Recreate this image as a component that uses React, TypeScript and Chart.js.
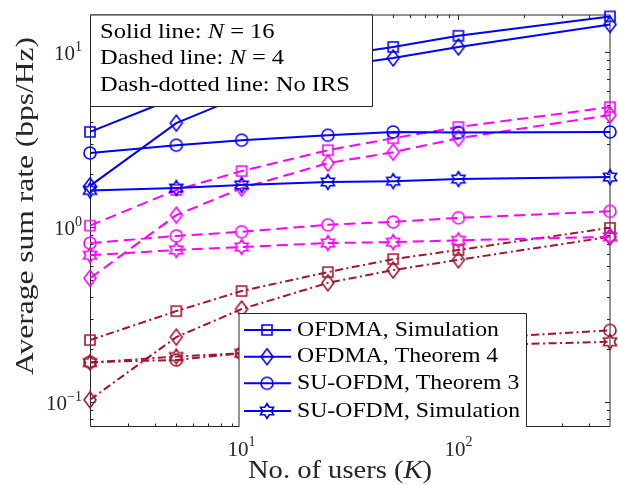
import React, { useEffect, useRef } from 'react';
import { Chart, registerables } from 'chart.js';

Chart.register(...registerables);

// ---------------- data ----------------
const users = [2, 5, 10, 25, 50, 100, 500];

// Solid line: N = 16
const ofdmaSimN16 = [3.5, 5.5, 7.3, 9.4, 10.7, 12.4, 16.0];
const ofdmaThmN16 = [1.72, 3.93, 5.6, 8.2, 9.25, 10.7, 14.4];
const suThmN16 = [2.65, 2.94, 3.14, 3.35, 3.5, 3.47, 3.5];
const suSimN16 = [1.62, 1.67, 1.74, 1.81, 1.83, 1.88, 1.93];

// Dashed line: N = 4
const ofdmaSimN4 = [1.02, 1.63, 2.09, 2.75, 3.22, 3.73, 4.85];
const ofdmaThmN4 = [0.51, 1.17, 1.67, 2.32, 2.68, 3.22, 4.37];
const suThmN4 = [0.81, 0.89, 0.94, 1.03, 1.07, 1.13, 1.23];
const suSimN4 = [0.69, 0.74, 0.77, 0.81, 0.82, 0.84, 0.88];

// Dash-dotted line: No IRS
const ofdmaSimNoIRS = [0.226, 0.331, 0.431, 0.553, 0.656, 0.74, 0.99];
const ofdmaThmNoIRS = [0.103, 0.235, 0.34, 0.48, 0.568, 0.65, 0.88];
const suThmNoIRS = [0.169, 0.174, 0.19, 0.205, 0.215, 0.228, 0.257];
const suSimNoIRS = [0.168, 0.182, 0.19, 0.198, 0.205, 0.21, 0.221];

const xMajorTicks = [10, 100];
const xMinorTicks = [3, 4, 5, 6, 7, 8, 9, 20, 30, 40, 50, 60, 70, 80, 90, 200, 300, 400];
const yMajorTicks = [0.1, 1, 10];
const yMinorTicks = [0.08, 0.09, 0.2, 0.3, 0.4, 0.5, 0.6, 0.7, 0.8, 0.9, 2, 3, 4, 5, 6, 7, 8, 9];

const legendLabels = ['OFDMA, Simulation', 'OFDMA, Theorem 4', 'SU-OFDM, Theorem 3', 'SU-OFDM, Simulation'];
const xTitle = 'No. of users';
const yTitle = 'Average sum rate (bps/Hz)';

// ---------------- styling ----------------
const FONT = '"Liberation Serif", "Times New Roman", serif';
const BLUE = '#0000ff';
const MAGENTA = '#ff00ff';
const DARKRED = '#a2142f';
const AXIS = '#262626';

type Shape = 'square' | 'diamond' | 'circle' | 'hexagram';
const shapes: Shape[] = ['square', 'diamond', 'circle', 'hexagram'];

function makeMarker(shape: Shape, color: string): HTMLCanvasElement {
  const c = document.createElement('canvas');
  c.width = 22;
  c.height = 22;
  const g = c.getContext('2d')!;
  g.strokeStyle = color;
  g.lineWidth = 1.6;
  g.lineJoin = 'miter';
  const cx = 11;
  const cy = 11;
  g.beginPath();
  if (shape === 'square') {
    g.rect(cx - 5, cy - 5, 10, 10);
  } else if (shape === 'circle') {
    g.arc(cx, cy, 6, 0, Math.PI * 2);
  } else if (shape === 'diamond') {
    g.moveTo(cx, cy - 8);
    g.lineTo(cx + 6, cy);
    g.lineTo(cx, cy + 8);
    g.lineTo(cx - 6, cy);
    g.closePath();
  } else {
    const R = 7.5;
    const r = R / Math.sqrt(3);
    for (let k = 0; k < 12; k++) {
      const a = -Math.PI / 2 + (k * Math.PI) / 6;
      const rr = k % 2 === 0 ? R : r;
      const px = cx + rr * Math.cos(a);
      const py = cy + rr * Math.sin(a);
      if (k === 0) g.moveTo(px, py);
      else g.lineTo(px, py);
    }
    g.closePath();
  }
  g.stroke();
  return c;
}

type Seg = { t: string; it?: boolean };

function fontFor(size: number, it?: boolean) {
  return `${it ? 'italic ' : ''}${size}px ${FONT}`;
}

function segWidth(ctx: CanvasRenderingContext2D, segs: Seg[], size: number) {
  let w = 0;
  for (const s of segs) {
    ctx.font = fontFor(size, s.it);
    w += ctx.measureText(s.t).width;
  }
  return w;
}

function drawSegs(
  ctx: CanvasRenderingContext2D,
  segs: Seg[],
  x: number,
  y: number,
  size: number,
  sx: number,
  align: 'left' | 'center'
) {
  const w = segWidth(ctx, segs, size) * sx;
  const start = align === 'center' ? x - w / 2 : x;
  ctx.save();
  ctx.translate(start, y);
  ctx.scale(sx, 1);
  ctx.textAlign = 'left';
  ctx.textBaseline = 'alphabetic';
  let cx = 0;
  for (const s of segs) {
    ctx.font = fontFor(size, s.it);
    ctx.fillText(s.t, cx, 0);
    cx += ctx.measureText(s.t).width;
  }
  ctx.restore();
}

function supLabel(exp: number) {
  return exp < 0 ? '\u2212' + String(-exp) : String(exp);
}

export default function App() {
  const ref = useRef<HTMLCanvasElement | null>(null);

  useEffect(() => {
    document.body.style.margin = '0';
    document.body.style.overflow = 'hidden';
    const canvas = ref.current;
    if (!canvas) return;

    const groups = [
      { color: BLUE, dash: [] as number[], sets: [ofdmaSimN16, ofdmaThmN16, suThmN16, suSimN16], tag: 'N=16' },
      { color: MAGENTA, dash: [11, 6], sets: [ofdmaSimN4, ofdmaThmN4, suThmN4, suSimN4], tag: 'N=4' },
      { color: DARKRED, dash: [8, 3.5, 2, 3.5], sets: [ofdmaSimNoIRS, ofdmaThmNoIRS, suThmNoIRS, suSimNoIRS], tag: 'No IRS' },
    ];

    const datasets: any[] = [];
    groups.forEach((g) => {
      g.sets.forEach((vals, i) => {
        datasets.push({
          label: `${legendLabels[i]} (${g.tag})`,
          data: users.map((k, j) => ({ x: k, y: vals[j] })),
          borderColor: g.color,
          backgroundColor: 'transparent',
          borderWidth: 2,
          borderDash: g.dash,
          borderCapStyle: 'butt',
          pointStyle: makeMarker(shapes[i], g.color),
          pointRadius: 6,
          pointHoverRadius: 6,
          tension: 0,
          fill: false,
          clip: false,
        });
      });
    });

    const legendMarkers = shapes.map((s) => makeMarker(s, BLUE));

    const framePlugin = {
      id: 'framePlugin',
      beforeDatasetsDraw(chart: any) {
        const { ctx, chartArea: a, scales } = chart;
        const xs = scales.x;
        const ys = scales.y;
        ctx.save();
        ctx.fillStyle = '#ffffff';
        ctx.fillRect(0, 0, chart.width, chart.height);

        const L = Math.round(a.left) + 0.5;
        const B = Math.round(a.bottom) - 0.5;
        const T = Math.round(a.top);
        const R = Math.round(a.right);

        ctx.strokeStyle = AXIS;
        ctx.lineWidth = 1;
        const tick = (v: number, len: number, axis: 'x' | 'y') => {
          ctx.beginPath();
          if (axis === 'x') {
            const p = Math.round(xs.getPixelForValue(v)) + 0.5;
            ctx.moveTo(p, B);
            ctx.lineTo(p, B - len);
            ctx.moveTo(p, T);
            ctx.lineTo(p, T + len);
          } else {
            const p = Math.round(ys.getPixelForValue(v)) + 0.5;
            ctx.moveTo(L, p);
            ctx.lineTo(L + len, p);
            ctx.moveTo(R, p);
            ctx.lineTo(R - len, p);
          }
          ctx.stroke();
        };
        xMajorTicks.forEach((v) => tick(v, 5, 'x'));
        xMinorTicks.forEach((v) => tick(v, 3, 'x'));
        yMajorTicks.forEach((v) => tick(v, 5, 'y'));
        yMinorTicks.forEach((v) => tick(v, 3, 'y'));

        ctx.beginPath();
        ctx.moveTo(L, a.top);
        ctx.lineTo(L, B);
        ctx.lineTo(a.right, B);
        ctx.stroke();
        ctx.beginPath();
        ctx.moveTo(L, T);
        ctx.lineTo(R, T);
        ctx.lineTo(R, B);
        ctx.stroke();

        // tick labels
        ctx.fillStyle = AXIS;
        ctx.textBaseline = 'alphabetic';
        xMajorTicks.forEach((v) => {
          const p = xs.getPixelForValue(v);
          const exp = supLabel(Math.round(Math.log10(v)));
          ctx.font = fontFor(21);
          const w1 = ctx.measureText('10').width;
          ctx.font = fontFor(14);
          const w2 = ctx.measureText(exp).width;
          const start = p - (w1 + w2) / 2;
          ctx.textAlign = 'left';
          ctx.font = fontFor(21);
          ctx.fillText('10', start, 456);
          ctx.font = fontFor(14);
          ctx.fillText(exp, start + w1, 446);
        });
        yMajorTicks.forEach((v) => {
          const p = ys.getPixelForValue(v);
          const exp = supLabel(Math.round(Math.log10(v)));
          ctx.font = fontFor(14);
          const w2 = ctx.measureText(exp).width;
          ctx.font = fontFor(21);
          const w1 = ctx.measureText('10').width;
          const right = 82;
          ctx.textAlign = 'left';
          ctx.font = fontFor(21);
          ctx.fillText('10', right - w2 - w1, p + 7.5);
          ctx.font = fontFor(14);
          ctx.fillText(exp, right - w2, p - 1);
        });

        // axis titles
        ctx.fillStyle = AXIS;
        const xSegs: Seg[] = [{ t: xTitle + ' (' }, { t: 'K', it: true }, { t: ')' }];
        const xSx = 184 / segWidth(ctx, xSegs, 26);
        drawSegs(ctx, xSegs, 340, 478, 26, xSx, 'center');

        const ySegs: Seg[] = [{ t: yTitle }];
        const ySx = 338 / segWidth(ctx, ySegs, 26);
        ctx.save();
        ctx.translate(33, 206);
        ctx.rotate(-Math.PI / 2);
        drawSegs(ctx, ySegs, 0, 0, 26, ySx, 'center');
        ctx.restore();

        ctx.restore();
      },
      afterDatasetsDraw(chart: any) {
        const { ctx } = chart;
        ctx.save();

        // note box (top-left)
        ctx.fillStyle = '#ffffff';
        ctx.fillRect(90, 15, 283, 91);
        ctx.strokeStyle = AXIS;
        ctx.lineWidth = 1;
        ctx.beginPath();
        ctx.moveTo(90.5, 15);
        ctx.lineTo(372.5, 15);
        ctx.lineTo(372.5, 106.5);
        ctx.lineTo(90.5, 106.5);
        ctx.closePath();
        ctx.stroke();

        const noteRows: Seg[][] = [
          [{ t: 'Solid line: ' }, { t: 'N', it: true }, { t: ' = 16' }],
          [{ t: 'Dashed line: ' }, { t: 'N', it: true }, { t: ' = 4' }],
          [{ t: 'Dash-dotted line: No IRS' }],
        ];
        ctx.fillStyle = '#000000';
        const noteSx = 250 / segWidth(ctx, noteRows[2], 22);
        const noteBase = [37.5, 64, 90.5];
        noteRows.forEach((row, i) => drawSegs(ctx, row, 100, noteBase[i], 22, noteSx, 'left'));

        // legend box (lower-right)
        const lx = 239;
        const ly = 313;
        const lr = 526;
        const lb = 427;
        ctx.fillStyle = '#ffffff';
        ctx.fillRect(lx, ly, lr - lx, lb - ly);
        ctx.strokeStyle = AXIS;
        ctx.beginPath();
        ctx.moveTo(lx, lb);
        ctx.lineTo(lx, ly + 0.5);
        ctx.lineTo(lr + 0.5, ly + 0.5);
        ctx.lineTo(lr + 0.5, lb);
        ctx.stroke();

        const rowsY = [330, 356.7, 383.3, 411];
        const legSx = 223 / segWidth(ctx, [{ t: legendLabels[3] }], 22);
        legendLabels.forEach((lab, i) => {
          const y = rowsY[i];
          ctx.strokeStyle = BLUE;
          ctx.lineWidth = 2;
          ctx.beginPath();
          ctx.moveTo(244, y);
          ctx.lineTo(291, y);
          ctx.stroke();
          const m = legendMarkers[i];
          ctx.drawImage(m, 267 - m.width / 2, y - m.height / 2);
          ctx.fillStyle = '#000000';
          drawSegs(ctx, [{ t: lab }], 297, y + 5.5, 22, legSx, 'left');
        });

        ctx.restore();
      },
    };

    const chart = new Chart(canvas, {
      type: 'line',
      data: { datasets },
      options: {
        responsive: false,
        animation: false,
        devicePixelRatio: 1,
        events: [],
        layout: { padding: { left: 90, right: 7, top: 15, bottom: 58 } },
        plugins: { legend: { display: false }, tooltip: { enabled: false } },
        scales: {
          x: { type: 'logarithmic', min: 2, max: 500, display: false },
          y: { type: 'logarithmic', min: 0.072, max: 16.3, display: false },
        },
      } as any,
      plugins: [framePlugin],
    });

    return () => chart.destroy();
  }, []);

  return (
    <div style={{ width: 618, height: 485 }}>
      <canvas ref={ref} width={618} height={485} style={{ display: 'block' }} />
    </div>
  );
}
